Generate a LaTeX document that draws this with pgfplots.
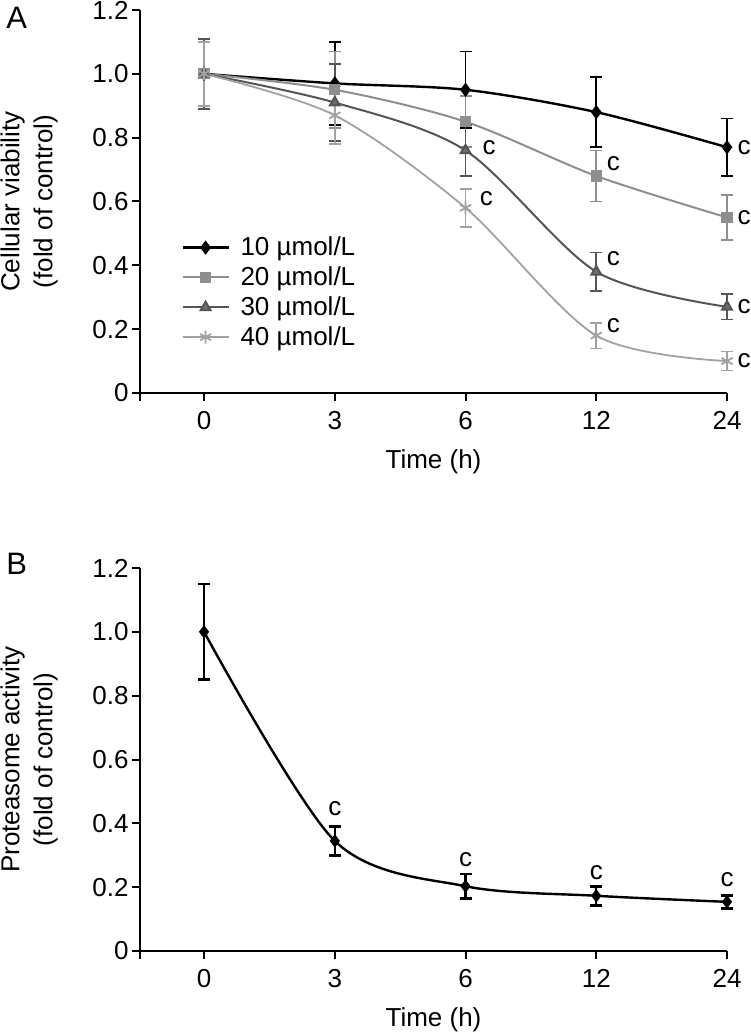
\documentclass[border=0pt]{standalone}
\usepackage{fontspec}
\setmainfont{Liberation Sans}
\usepackage{pgfplots}
\pgfplotsset{compat=1.18}
\definecolor{cA}{HTML}{000000}
\definecolor{cB}{HTML}{8E8E8E}
\definecolor{cC}{HTML}{555555}
\definecolor{cD}{HTML}{A2A2A2}
\newcommand{\fs}{\fontsize{13}{16.5}\selectfont}
\tikzset{cl/.style={font=\fs, inner sep=0pt}}
\pgfplotsset{
  panel/.style={
    scale only axis, width=293.5pt, height=191.5pt,
    xmin=-0.49, xmax=4, ymin=0, ymax=1.2,
    axis lines=left, axis line style={-, line width=1pt},
    clip=false,
    xtick={0,1,2,3,4}, xticklabels={0,3,6,12,24},
    extra x ticks={-0.49}, extra x tick labels={},
    ytick={0,0.2,0.4,0.6,0.8,1.0,1.2},
    yticklabels={0,0.2,0.4,0.6,0.8,1.0,1.2},
    tick align=outside, major tick length=4pt,
    tick style={line width=1pt, black},
    ticklabel style={font=\fs},
    xticklabel style={yshift=-1.5pt},
    yticklabel style={xshift=1.8pt},
    label style={font=\fs},
    xlabel={Time (h)},
    xlabel style={at={(axis description cs:0.5,0)}, anchor=north, yshift=-25pt},
    ylabel style={at={(axis description cs:-0.128,0.5)}, anchor=south, align=center},
    error bars/y dir=both, error bars/y explicit,
    error bars/error bar style={line width=0.8pt},
    error bars/error mark options={rotate=90, mark size=3pt, line width=0.8pt},
  },
}
\begin{document}
\begin{tikzpicture}
\useasboundingbox (-70pt,-319.5pt) rectangle (305pt,196.5pt);
\begin{axis}[panel, at={(0,0)},
  ylabel={Cellular viability\\(fold of control)},
  legend style={at={(axis description cs:0.06,0.43)}, anchor=north west, draw=none, fill=none, font=\fontsize{13}{15}\selectfont, row sep=0pt},
  legend cell align=left,
  legend image code/.code={\draw[mark repeat=2,mark phase=2] plot coordinates {(0cm,0cm) (0.4cm,0cm) (0.8cm,0cm)};},
]
\addplot[cA, line width=1.2pt, smooth, mark=diamond*, mark size=2.6pt, mark options={solid, fill=cA}]
 coordinates {(0,1.00) +- (0,0.11) (1,0.97) +- (0,0.13) (2,0.95) +- (0,0.12) (3,0.88) +- (0,0.11) (4,0.77) +- (0,0.09)};
\addlegendentry{\hspace{3.5pt}10 µmol/L}
\addplot[cB, line width=1pt, smooth, mark=square*, mark size=2.3pt, mark options={solid, fill=cB}]
 coordinates {(0,1.00) +- (0,0.11) (1,0.95) +- (0,0.12) (2,0.85) +- (0,0.08) (3,0.68) +- (0,0.08) (4,0.55) +- (0,0.07)};
\addlegendentry{\hspace{3.5pt}20 µmol/L}
\addplot[cC, line width=1pt, smooth, mark=triangle*, mark size=2.8pt, mark options={solid, fill=cC!85}]
 coordinates {(0,1.00) +- (0,0.11) (1,0.91) +- (0,0.12) (2,0.76) +- (0,0.08) (3,0.38) +- (0,0.06) (4,0.27) +- (0,0.04)};
\addlegendentry{\hspace{3.5pt}30 µmol/L}
\addplot[cD, line width=0.9pt, smooth, mark=asterisk, mark size=3.2pt, mark options={solid}]
 coordinates {(0,1.00) +- (0,0.10) (1,0.87) +- (0,0.09) (2,0.58) +- (0,0.06) (3,0.18) +- (0,0.04) (4,0.10) +- (0,0.03)};
\addlegendentry{\hspace{3.5pt}40 µmol/L}
\node[cl] at (axis cs:2.18,0.77) {c};
\node[cl] at (axis cs:2.16,0.61) {c};
\node[cl] at (axis cs:3.13,0.72) {c};
\node[cl] at (axis cs:3.13,0.42) {c};
\node[cl] at (axis cs:3.13,0.21) {c};
\node[cl] at (axis cs:4.13,0.77) {c};
\node[cl] at (axis cs:4.13,0.55) {c};
\node[cl] at (axis cs:4.13,0.27) {c};
\node[cl] at (axis cs:4.13,0.10) {c};
\node[font=\fontsize{15.5}{15.5}\selectfont] at (axis description cs:-0.21,0.98) {A};
\end{axis}
\begin{axis}[panel, at={(0,-279pt)},
  ylabel={Proteasome activity\\(fold of control)},
  error bars/error bar style={line width=1.1pt},
  error bars/error mark options={rotate=90, mark size=3pt, line width=1.3pt},
]
\addplot[black, line width=1.2pt, smooth, mark=diamond*, mark size=2.4pt, mark options={solid, fill=black}]
 coordinates {(0,1.00) +- (0,0.15) (1,0.345) +- (0,0.045) (2,0.203) +- (0,0.038) (3,0.173) +- (0,0.03) (4,0.154) +- (0,0.02)};
\node[cl] at (axis cs:1,0.445) {c};
\node[cl] at (axis cs:2,0.285) {c};
\node[cl] at (axis cs:3,0.247) {c};
\node[cl] at (axis cs:4,0.223) {c};
\node[font=\fontsize{15.5}{15.5}\selectfont] at (axis description cs:-0.21,1.01) {B};
\end{axis}
\end{tikzpicture}
\end{document}
